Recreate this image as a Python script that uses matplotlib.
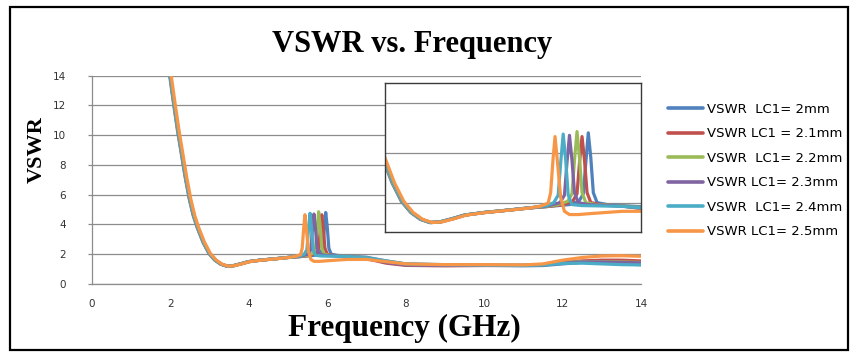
import matplotlib
matplotlib.use("Agg")
import matplotlib.pyplot as plt
from matplotlib.patches import Rectangle

# ---------------- data ----------------
labels = ["VSWR  LC1= 2mm", "VSWR LC1 = 2.1mm", "VSWR  LC1= 2.2mm",
          "VSWR LC1= 2.3mm", "VSWR  LC1= 2.4mm", "VSWR LC1= 2.5mm"]
colors = ["#4F81BD", "#C0504D", "#9BBB59", "#8064A2", "#4BACC6", "#F79646"]

freq_2mm = [1.88, 1.98, 2.08, 2.18, 2.28, 2.38, 2.48, 2.58, 2.68, 2.83, 2.98, 3.13, 3.28, 3.43, 3.58, 3.78, 3.98, 4.28, 4.68, 4.98,
            5.30, 5.66, 5.81, 5.88, 5.92, 5.96, 6.00, 6.04, 6.10, 6.26, 6.5, 7.0, 7.5, 8.0, 9.0, 10.0, 11.0, 11.5, 12.0, 12.5, 13.0, 13.5, 14.0]
vswr_2mm = [16.0, 14.0, 12.1, 10.3, 8.7, 7.1, 5.7, 4.6, 3.8, 2.8, 2.05, 1.6, 1.33, 1.2, 1.22, 1.35, 1.5, 1.6, 1.7, 1.78,
            1.84, 1.92, 2.05, 2.35, 3.6, 4.8, 3.8, 2.4, 2.0, 1.92, 1.88, 1.8, 1.55, 1.35, 1.28, 1.25, 1.22, 1.24, 1.35, 1.45, 1.42, 1.35, 1.3]

freq_21mm = [1.89, 1.99, 2.09, 2.19, 2.29, 2.39, 2.49, 2.59, 2.69, 2.84, 2.99, 3.14, 3.29, 3.44, 3.59, 3.79, 3.99, 4.29, 4.69, 4.99,
             5.30, 5.56, 5.71, 5.78, 5.82, 5.86, 5.90, 5.94, 6.00, 6.16, 6.5, 7.0, 7.5, 8.0, 9.0, 10.0, 11.0, 11.5, 12.0, 12.5, 13.0, 13.5, 14.0]
vswr_21mm = [16.0, 14.0, 12.1, 10.3, 8.7, 7.1, 5.7, 4.6, 3.8, 2.8, 2.05, 1.6, 1.33, 1.2, 1.22, 1.35, 1.5, 1.6, 1.7, 1.78,
             1.84, 1.92, 2.05, 2.35, 3.6, 4.65, 3.7, 2.4, 2.0, 1.92, 1.86, 1.7, 1.4, 1.25, 1.22, 1.24, 1.25, 1.3, 1.45, 1.55, 1.6, 1.6, 1.55]

freq_22mm = [1.89, 1.99, 2.09, 2.19, 2.29, 2.39, 2.49, 2.59, 2.69, 2.84, 2.99, 3.14, 3.29, 3.44, 3.59, 3.79, 3.99, 4.29, 4.69, 4.99,
             5.30, 5.48, 5.63, 5.70, 5.74, 5.78, 5.82, 5.86, 5.92, 6.08, 6.5, 7.0, 7.5, 8.0, 9.0, 10.0, 11.0, 11.5, 12.0, 12.5, 13.0, 13.5, 14.0]
vswr_22mm = [16.0, 14.0, 12.1, 10.3, 8.7, 7.1, 5.7, 4.6, 3.8, 2.8, 2.05, 1.6, 1.33, 1.2, 1.22, 1.35, 1.5, 1.6, 1.7, 1.78,
             1.85, 1.92, 2.05, 2.35, 3.7, 4.85, 3.8, 2.4, 2.0, 1.92, 1.87, 1.75, 1.5, 1.32, 1.27, 1.26, 1.25, 1.3, 1.45, 1.5, 1.5, 1.48, 1.45]

freq_23mm = [1.90, 2.00, 2.10, 2.20, 2.30, 2.40, 2.50, 2.60, 2.70, 2.85, 3.00, 3.15, 3.30, 3.45, 3.60, 3.80, 4.00, 4.30, 4.70, 5.00,
             5.30, 5.51, 5.58, 5.62, 5.66, 5.70, 5.74, 5.80, 5.96, 6.5, 7.0, 7.5, 8.0, 9.0, 10.0, 11.0, 11.5, 12.0, 12.5, 13.0, 13.5, 14.0]
vswr_23mm = [16.0, 14.0, 12.1, 10.3, 8.7, 7.1, 5.7, 4.6, 3.8, 2.8, 2.05, 1.6, 1.33, 1.2, 1.22, 1.35, 1.5, 1.6, 1.7, 1.78,
             1.86, 2.0, 2.3, 3.6, 4.7, 3.7, 2.4, 2.0, 1.92, 1.86, 1.72, 1.45, 1.28, 1.25, 1.25, 1.25, 1.3, 1.42, 1.48, 1.48, 1.45, 1.42]

freq_24mm = [1.90, 2.00, 2.10, 2.20, 2.30, 2.40, 2.50, 2.60, 2.70, 2.85, 3.00, 3.15, 3.30, 3.45, 3.60, 3.80, 4.00, 4.30, 4.70, 5.00,
             5.30, 5.41, 5.48, 5.52, 5.56, 5.60, 5.64, 5.70, 5.86, 6.5, 7.0, 7.5, 8.0, 9.0, 10.0, 11.0, 11.5, 12.0, 12.5, 13.0, 13.5, 14.0]
vswr_24mm = [16.0, 14.0, 12.1, 10.3, 8.7, 7.1, 5.7, 4.6, 3.8, 2.8, 2.05, 1.6, 1.33, 1.2, 1.22, 1.35, 1.5, 1.6, 1.7, 1.78,
             1.88, 2.0, 2.3, 3.6, 4.75, 3.7, 2.3, 1.92, 1.88, 1.85, 1.75, 1.55, 1.35, 1.3, 1.27, 1.25, 1.28, 1.38, 1.4, 1.35, 1.3, 1.28]

freq_25mm = [1.92, 2.02, 2.12, 2.22, 2.32, 2.42, 2.52, 2.62, 2.72, 2.87, 3.02, 3.17, 3.32, 3.47, 3.62, 3.82, 4.02, 4.32, 4.72, 5.02,
             5.20, 5.32, 5.36, 5.40, 5.43, 5.47, 5.52, 5.58, 5.66, 5.80, 6.0, 6.5, 7.0, 7.5, 8.0, 9.0, 10.0, 11.0, 11.5, 12.0, 12.5, 13.0, 13.5, 14.0]
vswr_25mm = [16.0, 14.0, 12.1, 10.3, 8.7, 7.1, 5.7, 4.6, 3.8, 2.8, 2.05, 1.6, 1.33, 1.2, 1.22, 1.35, 1.5, 1.6, 1.7, 1.78,
             1.86, 1.98, 2.4, 3.8, 4.65, 3.6, 2.2, 1.65, 1.52, 1.52, 1.56, 1.65, 1.65, 1.5, 1.35, 1.3, 1.3, 1.28, 1.35, 1.6, 1.78, 1.88, 1.9, 1.86]

series_freq = [freq_2mm, freq_21mm, freq_22mm, freq_23mm, freq_24mm, freq_25mm]
series_vswr = [vswr_2mm, vswr_21mm, vswr_22mm, vswr_23mm, vswr_24mm, vswr_25mm]

x_ticks = [0, 2, 4, 6, 8, 10, 12, 14]
y_ticks = [0, 2, 4, 6, 8, 10, 12, 14]
inset_grid = [2, 4, 6]

# ---------------- figure ----------------
W, H = 856, 352
fig = plt.figure(figsize=(W / 100, H / 100), dpi=100)
fig.patch.set_facecolor("white")

def fx(px):
    return px / W

def fy(py):
    return 1 - py / H

# outer chart border
fig.patches.append(Rectangle((fx(10), fy(350)), fx(848) - fx(10), fy(7) - fy(350),
                             transform=fig.transFigure, fill=False, edgecolor="black", linewidth=1.6))

grid_col = "#8C8C8C"
ax = fig.add_axes([fx(92), fy(284), fx(641) - fx(92), fy(75.5) - fy(284)])
for f, v, c, l in zip(series_freq, series_vswr, colors, labels):
    ax.plot(f, v, color=c, lw=2.3, label=l, solid_joinstyle="round", solid_capstyle="round")
ax.set_xlim(0, 14)
ax.set_ylim(0, 14)
ax.set_xticks(x_ticks)
ax.set_yticks(y_ticks)
ax.yaxis.grid(True, color=grid_col, lw=0.9)
ax.set_axisbelow(True)
for s in ["top", "right"]:
    ax.spines[s].set_visible(False)
for s in ["left", "bottom"]:
    ax.spines[s].set_color(grid_col)
    ax.spines[s].set_linewidth(0.9)
ax.tick_params(axis="y", length=3, width=0.9, color=grid_col, pad=16, labelsize=7.5, labelcolor="#333333")
ax.tick_params(axis="x", length=0, pad=11, labelsize=7.5, labelcolor="#333333")

# inset (magnified view of the same curves)
axi = fig.add_axes([fx(385), fy(232), fx(641) - fx(385), fy(83) - fy(232)])
for f, v, c in zip(series_freq, series_vswr, colors):
    axi.plot(f, v, color=c, lw=2.3, solid_joinstyle="round", solid_capstyle="round")
axi.set_xlim(2.72, 6.80)
axi.set_ylim(0.82, 6.8)
axi.set_xticks([])
axi.set_yticks(inset_grid)
axi.tick_params(axis="y", length=0, labelleft=False)
axi.yaxis.grid(True, color=grid_col, lw=0.9)
axi.set_axisbelow(True)
for s in axi.spines.values():
    s.set_color("#3A3A3A")
    s.set_linewidth(1.0)

# texts
serif = ["Liberation Serif", "DejaVu Serif"]
fig.text(fx(412), fy(52), "VSWR vs. Frequency", family=serif, weight="bold",
         fontsize=22, ha="center", va="baseline")
fig.text(fx(404), fy(336), "Frequency (GHz)", family=serif, weight="bold",
         fontsize=22.5, ha="center", va="baseline")
fig.text(fx(37), fy(150), "VSWR", family=serif, weight="bold",
         fontsize=16, ha="center", va="center", rotation=90)

leg = fig.legend(loc="upper left", bbox_to_anchor=(fx(668), fy(103)), frameon=False,
                 fontsize=9.5, handlelength=2.65, handletextpad=0.3, labelspacing=0.87,
                 borderpad=0, borderaxespad=0)
for line in leg.get_lines():
    line.set_linewidth(2.6)

fig.savefig("out.png", dpi=100, facecolor="white")
